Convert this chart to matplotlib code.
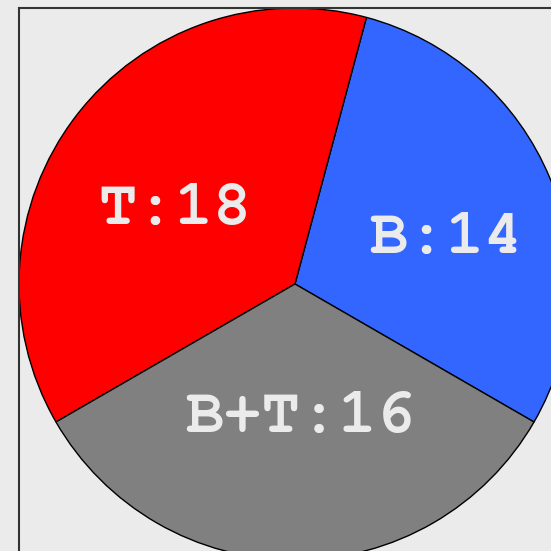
import numpy as np
import matplotlib.pyplot as plt

labels = ['B', 'T', 'B+T']
values = [14, 18, 16]
colors = ['#3366ff', '#ff0000', '#808080']

W = 551
fig = plt.figure(figsize=(5.51, 5.51), dpi=100, facecolor='#ebebeb')

# axes placed so that the pie touches the left and top frame edges
cx, cy, r = 295, 284, 276
ax = fig.add_axes([(cx - r) / W, (W - cy - r) / W, 2 * r / W, 2 * r / W])
ax.set_facecolor('#ebebeb')

wedges, _ = ax.pie(values, colors=colors, startangle=-30, radius=1,
                   wedgeprops=dict(edgecolor='black', linewidth=1))
ax.set_xlim(-1, 1)
ax.set_ylim(-1, 1)
ax.set_aspect('equal')
ax.set_xticks([])
ax.set_yticks([])
ax.set_frame_on(True)
for s in ax.spines.values():
    s.set_visible(True)
    s.set_color('#333333')
    s.set_linewidth(1.5)
    s.set_zorder(5)

# labels sit on a slightly flattened ring, text baseline under cap centre
for w, lab, v in zip(wedges, labels, values):
    ang = np.deg2rad((w.theta1 + w.theta2) / 2)
    ax.text(0.57 * np.cos(ang) + 0.018, 0.47 * np.sin(ang) - 0.067, f'{lab}:{v}',
            ha='center', va='baseline', fontsize=46, fontweight='bold',
            family=['Courier New', 'FreeMono', 'Liberation Mono'], color='#ebebeb')

fig.savefig('out.png', dpi=100, facecolor=fig.get_facecolor())
